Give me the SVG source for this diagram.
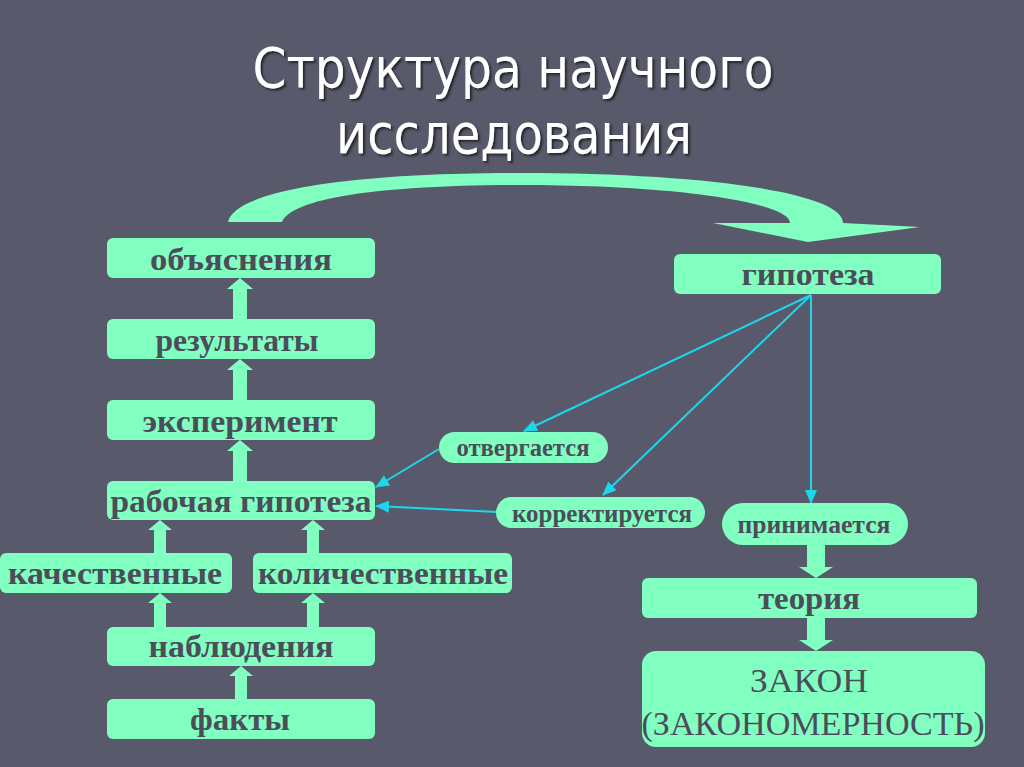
<svg xmlns="http://www.w3.org/2000/svg" width="1024" height="767" viewBox="0 0 1024 767">
<defs>
<style>
.box{fill:#80ffc0;}
.lbl{font-family:"Liberation Serif",serif;font-weight:bold;font-size:32px;fill:#4c4c5a;text-anchor:middle;}
.olbl{font-family:"Liberation Serif",serif;font-weight:bold;font-size:25px;fill:#4c4c5a;text-anchor:middle;}
.law{font-family:"Liberation Serif",serif;font-size:33px;fill:#4c4c5a;text-anchor:middle;}
.title{font-family:"DejaVu Sans","Liberation Sans",sans-serif;font-size:56px;fill:#ffffff;text-anchor:middle;filter:url(#sh);}
.thick{fill:#80ffc0;}
.cy{stroke:#1ed6ec;stroke-width:2;fill:none;marker-end:url(#ah);}
</style>
<filter id="sh" x="-5%" y="-20%" width="110%" height="140%">
<feDropShadow dx="2" dy="2" stdDeviation="0.8" flood-color="#1a1b22" flood-opacity="0.9"/>
</filter>
<marker id="ah" markerUnits="userSpaceOnUse" markerWidth="14" markerHeight="12" viewBox="0 0 14 12" refX="13" refY="6" orient="auto">
<path d="M0,0 L14,6 L0,12 Z" fill="#1ed6ec"/>
</marker>
</defs>
<rect width="1024" height="767" fill="#585a6b"/>

<g id="title">
<text class="title" x="513" y="87" textLength="521" lengthAdjust="spacingAndGlyphs">Структура научного</text>
<text class="title" x="514" y="153" textLength="356" lengthAdjust="spacingAndGlyphs">исследования</text>
</g>

<g id="connectors">
<path class="thick" d="M228,222 C234,194 330,173 520,173 C700,173 843,192 843,223 L920,227 L808,242 L713,223 L790,223 C790,203 680,185 520,185 C380,185 292,198 282,222 Z"/>
<polygon class="thick" points="233,319 233,289 227,289 240,278 253,289 247,289 247,319"/>
<polygon class="thick" points="233,400 233,370 227,370 240,359 253,370 247,370 247,400"/>
<polygon class="thick" points="233,481 233,451 227,451 240,440 253,451 247,451 247,481"/>
<polygon class="thick" points="154,553 154,530 148,530 160,520 172,530 166,530 166,553"/>
<polygon class="thick" points="307,553 307,530 301,530 313,520 325,530 319,530 319,553"/>
<polygon class="thick" points="154,627 154,603 148,603 160,593 172,603 166,603 166,627"/>
<polygon class="thick" points="307,627 307,603 301,603 313,593 325,603 319,603 319,627"/>
<polygon class="thick" points="235,699 235,676 229,676 241,666 253,676 247,676 247,699"/>
<polygon class="thick" points="807,545 807,567 799,567 816,578 833,567 825,567 825,545"/>
<polygon class="thick" points="807,618 807,640 799,640 816,651 833,640 825,640 825,618"/>
<line class="cy" x1="811" y1="295" x2="524" y2="431"/>
<line class="cy" x1="811" y1="295" x2="603" y2="495"/>
<line class="cy" x1="811" y1="295" x2="811" y2="503"/>
<line class="cy" x1="439" y1="449" x2="376" y2="487"/>
<line class="cy" x1="497" y1="512" x2="376" y2="506"/>
</g>

<g id="n-obyasneniya"><rect class="box" x="107" y="238" width="268" height="40" rx="6"/><text class="lbl" x="241" y="270" textLength="182" lengthAdjust="spacingAndGlyphs">объяснения</text></g>
<g id="n-rezultaty"><rect class="box" x="107" y="319" width="268" height="40" rx="6"/><text class="lbl" x="237" y="351" textLength="163" lengthAdjust="spacingAndGlyphs">результаты</text></g>
<g id="n-eksperiment"><rect class="box" x="107" y="400" width="268" height="40" rx="6"/><text class="lbl" x="240" y="432" textLength="195" lengthAdjust="spacingAndGlyphs">эксперимент</text></g>
<g id="n-rabochaya"><rect class="box" x="107" y="481" width="268" height="39" rx="6"/><text class="lbl" x="241" y="512" textLength="261" lengthAdjust="spacingAndGlyphs">рабочая гипотеза</text></g>
<g id="n-kachestvennye"><rect class="box" x="0" y="553" width="232" height="40" rx="6"/><text class="lbl" x="115" y="584" textLength="214" lengthAdjust="spacingAndGlyphs">качественные</text></g>
<g id="n-kolichestvennye"><rect class="box" x="253" y="553" width="259" height="40" rx="6"/><text class="lbl" x="383" y="584" textLength="250" lengthAdjust="spacingAndGlyphs">количественные</text></g>
<g id="n-nablyudeniya"><rect class="box" x="107" y="627" width="268" height="39" rx="6"/><text class="lbl" x="241" y="657" textLength="185" lengthAdjust="spacingAndGlyphs">наблюдения</text></g>
<g id="n-fakty"><rect class="box" x="107" y="699" width="268" height="40" rx="6"/><text class="lbl" x="240" y="730" textLength="100" lengthAdjust="spacingAndGlyphs">факты</text></g>

<g id="n-gipoteza"><rect class="box" x="674" y="254" width="267" height="40" rx="6"/><text class="lbl" x="808" y="285" textLength="133" lengthAdjust="spacingAndGlyphs">гипотеза</text></g>
<g id="n-otvergaetsya"><rect class="box" x="439" y="432" width="169" height="31" rx="15.5"/><text class="olbl" x="523" y="456" textLength="133" lengthAdjust="spacingAndGlyphs">отвергается</text></g>
<g id="n-korrektiruetsya"><rect class="box" x="496" y="497" width="209" height="31" rx="15.5"/><text class="olbl" x="602" y="522" textLength="180" lengthAdjust="spacingAndGlyphs">корректируется</text></g>
<g id="n-prinimaetsya"><rect class="box" x="722" y="503" width="186" height="42" rx="21"/><text class="olbl" x="814" y="533" textLength="153" lengthAdjust="spacingAndGlyphs">принимается</text></g>
<g id="n-teoriya"><rect class="box" x="642" y="578" width="335" height="40" rx="6"/><text class="lbl" x="809" y="609" textLength="102" lengthAdjust="spacingAndGlyphs">теория</text></g>
<g id="n-zakon"><rect class="box" x="642" y="651" width="343" height="96" rx="14"/><text class="law" x="809" y="692" textLength="118" lengthAdjust="spacingAndGlyphs">ЗАКОН</text><text class="law" x="813" y="735" textLength="343" lengthAdjust="spacingAndGlyphs">(ЗАКОНОМЕРНОСТЬ)</text></g>
</svg>
